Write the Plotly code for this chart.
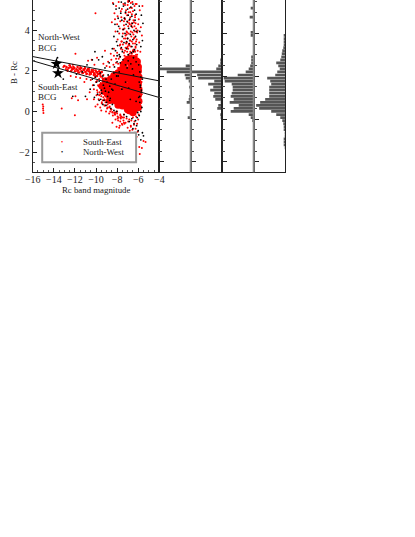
import plotly.graph_objects as go

# Scatter values (Rc magnitude, B-Rc colour)
se_core_mag = [-7.9,-7.5,-7.1,-6.8,-6.4,-6.1,-8.3,-8.0,-7.6,-7.3,-6.9,-6.5,-6.15,-8.7,-8.4,-7.9,-7.4,-7.0,-6.6,-6.2,
               -8.9,-8.5,-8.0,-7.5,-7.1,-6.7,-6.25,-9.0,-8.6,-8.2,-7.8,-7.3,-6.8,-6.3,-8.0,-7.6,-7.2,-6.75,-6.35,
               -7.3,-6.9,-6.45,-6.25,-7.0,-6.6,-6.35,-6.85,-6.4,-7.0,-6.5,-6.3,-6.7,
               -6.0,-5.95,-6.0,-5.95,-6.0,-5.95,-6.0,-8.7,-8.9,-9.2,-9.4,-9.1,-8.6,-8.3,-7.9,-7.6,-7.4,-7.1,-6.8,-6.4,-6.1,-6.0,
               -8.1,-7.7,-7.5,-7.2,-6.7,-8.4,-8.8]
se_core_col = [0.32,0.28,0.25,0.2,0.22,0.26,0.55,0.5,0.52,0.48,0.45,0.5,0.47,0.8,0.75,0.8,0.74,0.78,0.76,0.72,
               1.05,1.02,1.06,1.0,1.04,1.02,1.0,1.3,1.28,1.3,1.34,1.3,1.27,1.31,1.56,1.58,1.6,1.55,1.58,
               1.82,1.85,1.84,1.78,2.05,2.08,2.0,0.05,0.08,0.1,-0.05,2.3,2.35,
               0.2,0.5,0.8,1.1,1.4,1.7,2.0,0.55,0.85,1.0,1.25,1.5,1.6,1.75,1.9,2.05,2.3,2.5,2.6,2.6,2.45,2.2,
               1.72,1.82,1.68,1.9,1.7,1.5,1.15]

# Dense band running between the two lines, left of the main clump
se_band_mag = [-13.0,-12.8,-12.6,-12.4,-12.25,-12.05,-11.85,-11.7,-11.5,-11.35,-11.15,-11.0,-10.85,-10.65,-10.5,-10.3,-10.15,-9.95,-9.8,-9.6,
               -12.7,-12.35,-12.0,-11.6,-11.25,-10.9,-10.6,-10.2,-9.9,-9.55,-12.5,-12.15,-11.75,-11.4,-11.05,-10.75,-10.4,-10.05,-9.7,-9.45]
se_band_col = [2.25,2.2,2.15,2.18,2.1,2.14,2.08,2.02,2.1,1.98,2.05,1.95,2.02,1.98,1.92,1.96,1.88,1.92,1.85,1.88,
               2.05,2.0,1.98,1.92,1.9,1.85,1.82,1.8,1.75,1.72,2.28,2.2,2.2,2.15,2.12,2.1,2.05,2.02,1.98,1.95]

se_mag = [-15.05,-15.0,-15.02,-15.0,-14.98,-13.25,-12.0,-13.1,-12.85,-12.6,-12.3,-12.1,-11.8,-11.6,-11.4,-11.2,-11.0,-10.8,-10.6,-10.4,
          -10.2,-10.0,-9.8,-9.6,-13.0,-12.7,-12.45,-12.2,-11.95,-11.7,-11.5,-11.3,-11.05,-10.85,-10.65,-10.45,-10.25,-10.05,-9.85,-9.65,
          -12.4,-11.9,-11.5,-11.1,-10.9,-10.5,-10.1,-9.9,-9.5,-9.3,-9.7,-9.4,-10.3,-10.0,-9.8,-9.55,-9.3,-10.6,-10.2,-9.9,
          -9.6,-9.35,-9.95,-9.65,-9.45,-11.95,-12.3,-11.7,-10.85,-10.2,-9.75,-9.85,-9.45,-9.15,-10.05,-9.6,-9.2,-8.9,-9.5,-9.05,
          -10.75,-10.4,-10.15,-9.9,-9.3,-8.85,-8.7,-9.0,-8.55,-8.35,-8.1,-7.9,-9.15,-8.6,-8.3,-8.0,-7.75,-8.75,-8.4,-8.15,
          -7.85,-7.6,-8.45,-8.2,-7.95,-7.7,-7.4,-8.05,-7.8,-7.5,-7.3,-7.65,-7.45,-7.25,-7.05,-7.55,-7.35,-7.15,-6.85,-6.35,
          -7.2,-7.0,-6.75,-6.5,-6.25,-6.05,-7.1,-6.9,-6.65,-6.4,-6.2,-7.3,-6.95,-6.7,-6.45,-6.15,-7.0,-6.8,-6.55,-6.3,
          -7.25,-6.85,-6.6,-6.35,-6.1,-7.05,-6.75,-6.45,-6.25,-6.9,-6.6,-6.3,-7.15,-6.8,-6.5,-7.4,-7.0,-6.7,-6.35,-6.85,
          -7.6,-7.2,-6.95,-6.55,-6.25,-7.75,-7.35,-6.65,-6.2,-7.05,-6.4,-8.2,-7.45,-6.9,-6.3,-7.7,-7.1,-6.6,-6.1,-10.05,
          -7.85,-7.3,-6.75,-6.15,-7.5,-6.95,-6.45,-5.95,-8.1,-7.6,-7.15,-6.55,-6.0,-7.9,-7.25,-6.7,-6.25,-8.3,-7.4,-6.85,
          -6.35,-7.55,-6.6,-5.9,-8.45,-8.7,-8.85,-9.05,-8.55,-8.25,-8.0,-7.65,-7.35,-5.8,-5.75,-5.7,-5.85,-5.8,-5.72,-5.68,
          -5.78,-5.65,-5.82,-8.0,-7.7,-7.35,-7.1,-6.85,-6.5,-6.2,-5.95,-7.55,-7.2,-6.95,-6.65,-6.35,-6.0,-7.0,-6.7,-6.4,
          -6.1,-6.8,-6.55,-6.25,-6.55,-6.3,-6.05,-6.45,-6.15,-6.7,-6.95,-7.3,-6.35,-5.9,-5.3,-5.5,-6.2,-5.85,-5.65,
          -7.15,-6.9,-6.65,-6.4,-6.15,-7.35,-7.05,-6.8,-6.5,-6.2,-7.2,-6.95,-6.7,-6.45,-6.25,-7.1,-6.85,-6.6,-6.3,-7.0,
          -6.75,-6.5,-6.25,-6.9,-6.6,-6.35,-6.8,-6.55,-6.3,-7.4,-7.55,-7.25,-6.05,-6.0,-6.1,-5.95,
          # wider spread of the faint upper cloud and the left flank
          -8.4,-8.1,-7.85,-7.55,-7.25,-6.95,-6.6,-6.15,-5.85,-5.6,-8.25,-7.95,-7.65,-7.3,-6.75,-6.3,-5.95,-8.5,-8.0,-7.7,
          -7.35,-6.85,-6.4,-6.0,-5.75,-8.15,-7.8,-7.45,-7.1,-6.55,-6.05,-5.65,-7.95,-7.6,-7.2,-6.8,-6.35,-5.9,-8.3,-7.75,
          -7.5,-7.0,-6.5,-5.8,-9.75,-9.45,-9.2,-8.95,-9.6,-9.3,-9.05,-8.8,-9.85,-9.5,-9.2,-8.9,-9.7,-9.35,-9.1,-8.85,
          -9.45,-9.15,-8.9,-8.7,-8.95,-8.75,-8.55,-8.65,-8.45,-8.25,-8.45,-8.2,-7.95,-7.7,-7.45,-8.15,-7.9,-7.65,-7.35,-7.75]
se_col = [0.34,0.25,0.15,0.05,-0.08,0.15,-0.18,2.2,2.1,2.15,2.05,2.1,2.0,2.12,2.0,2.08,1.95,2.05,1.9,1.98,
          1.9,1.98,1.85,1.8,2.25,2.0,2.25,2.3,2.85,1.92,2.2,1.9,2.15,1.88,2.1,1.85,2.05,1.8,1.95,1.85,
          1.75,1.7,1.65,1.45,1.6,1.55,1.7,1.5,1.95,1.8,1.6,1.65,1.3,1.45,1.3,1.4,1.55,0.95,1.1,1.05,
          1.2,1.3,0.8,0.95,1.05,0.75,0.65,0.55,0.6,0.6,0.6,0.35,0.45,0.55,0.25,0.2,0.3,0.2,0.05,0.0,
          2.5,2.55,2.3,2.65,2.35,2.45,2.2,2.25,2.55,2.3,2.6,2.35,3.0,2.85,2.75,2.9,2.7,-0.1,-0.2,-0.05,
          -0.3,-0.25,-0.55,-0.15,-0.35,-0.5,-0.45,-0.75,-0.8,-0.65,-0.6,3.1,3.3,3.0,3.15,3.45,3.6,3.35,3.25,3.0,
          3.75,3.6,3.5,3.35,3.2,3.0,3.95,3.85,3.7,3.6,3.45,4.1,4.2,3.95,3.8,3.55,4.4,4.3,4.15,3.95,
          4.55,4.5,4.35,4.2,3.9,4.75,4.65,4.5,4.35,4.9,4.8,4.65,5.0,5.1,4.95,5.3,5.25,5.35,5.2,5.45,
          4.65,4.85,5.45,5.4,5.3,4.1,4.45,4.25,4.1,3.9,3.05,4.55,3.85,3.3,2.95,3.3,3.4,2.85,2.8,4.85,
          2.6,2.75,2.95,2.4,2.45,2.55,2.7,2.2,2.4,2.3,2.45,2.15,2.1,2.15,2.2,2.05,1.95,1.95,1.85,1.9,
          1.85,1.7,1.7,1.75,1.5,1.35,1.1,0.8,0.1,-0.05,0.0,-0.3,-0.15,1.6,1.3,1.0,0.7,0.4,0.2,1.45,
          1.15,0.85,0.55,-0.1,-0.15,-0.3,-0.35,-0.4,-0.3,-0.25,-0.15,-0.6,-0.55,-0.5,-0.45,-0.5,-0.4,-0.8,-0.7,-0.65,
          -0.6,-0.95,-0.9,-0.85,-1.1,-1.05,-1.0,-1.3,-1.25,-0.75,-1.4,-1.5,-1.6,-1.75,-1.5,-1.45,-1.9,-2.1,-1.8,
          2.7,2.65,2.75,2.6,2.7,2.9,2.95,2.85,2.95,2.8,3.15,3.1,3.2,3.05,3.15,3.4,3.3,3.45,3.35,2.5,
          2.55,2.6,2.5,2.4,2.45,2.5,2.2,2.25,2.15,2.05,1.85,1.8,2.3,2.6,2.0,1.9,
          5.35,5.2,5.4,5.05,5.25,5.4,5.1,5.3,5.0,5.2,4.85,4.7,4.95,4.6,4.9,4.75,4.55,4.4,4.3,4.45,
          4.25,4.35,4.4,4.3,4.15,3.95,3.85,4.05,3.8,3.9,4.0,3.75,3.55,3.45,3.6,3.5,3.65,3.4,3.1,3.25,
          3.05,3.2,3.0,2.95,1.25,1.05,0.9,1.35,0.85,0.7,1.15,1.45,0.95,0.75,0.6,1.2,0.8,0.55,0.45,0.9,
          0.4,0.3,0.35,0.25,0.15,0.2,0.1,0.0,-0.05,-0.1,-0.02,-0.15,-0.25,-0.2,-0.3,-0.4,-0.45,-0.35,-0.55,-0.7]

nw_mag = [-9.6,-9.35,-9.7,-10.05,-9.95,-10.2,-9.05,-9.3,-9.5,-8.95,-9.2,-9.45,-8.85,-9.1,-8.7,-8.9,-8.55,-8.3,-8.05,-7.8,
          -13.65,-13.35,-13.1,-11.85,-11.3,-10.85,-10.35,-10.1,-9.75,-9.4,-9.15,-8.75,-10.55,-10.15,-9.85,-9.55,-9.25,-9.0,-8.65,-8.45,
          -8.25,-8.0,-7.7,-7.45,-7.2,-6.95,-6.7,-6.45,-6.2,-8.15,-7.95,-7.6,-7.35,-7.1,-6.85,-6.6,-6.35,-7.5,-7.25,-7.0,
          -6.75,-6.5,-6.25,-7.4,-7.15,-6.9,-6.65,-6.4,-6.15,-7.55,-7.3,-7.05,-6.8,-6.55,-6.3,-7.65,-7.2,-6.95,-6.6,-6.2,
          -7.8,-7.4,-7.0,-6.7,-6.35,-7.6,-7.25,-6.85,-6.5,-7.85,-7.1,-6.65,-6.15,-8.0,-7.5,-6.95,-6.45,-7.7,-7.05,-6.55,
          -5.95,-5.85,-5.75,-5.9,-5.8,-5.7,-5.95,-5.85,-5.65,-5.75,-5.9,-5.6,-5.8,-5.7,-5.85,-6.1,-6.25,-6.4,-6.6,-6.85,
          -7.1,-7.35,-6.15,-6.0,-5.95,-5.6,-5.5,-5.75,-6.3,-6.5,-6.7,-7.0,-7.3,-6.05,-7.55,-8.2,-8.5,-8.8,-9.05,-8.6,
          -8.3,-8.05,-9.35,-9.7,-7.9,-6.9,-6.2,-6.45,-6.75,-7.2,-10.35,-11.0,-12.2,-8.4,-8.7,
          -8.35,-8.1,-7.9,-8.2,-7.95,-5.9,-5.7,-5.55,-8.3,-8.05,-5.85,-5.6,-8.45,-7.8,-5.75]
nw_col = [1.9,1.75,1.5,1.7,1.45,1.3,1.6,1.3,1.05,1.45,1.15,0.9,1.8,1.0,1.25,0.75,1.6,1.9,1.75,1.95,
          2.65,1.95,1.6,1.85,1.95,2.3,2.55,2.95,2.55,2.7,2.15,2.4,1.1,0.7,0.85,0.6,0.55,0.45,0.65,0.35,
          2.2,2.45,2.7,2.55,2.3,2.5,2.35,2.65,2.45,3.0,3.25,3.15,3.4,3.1,3.35,3.2,3.05,3.7,3.85,3.6,
          3.8,3.55,3.7,4.05,4.3,4.1,4.2,4.0,3.95,4.5,4.6,4.45,4.55,4.35,4.5,4.85,4.9,4.75,4.7,4.8,
          5.1,5.2,5.05,5.15,5.0,5.4,5.35,5.45,5.3,4.2,3.45,2.9,3.3,2.75,2.95,2.8,2.95,2.4,2.15,2.1,
          2.3,1.95,1.7,1.45,1.2,0.95,0.7,0.45,0.2,0.0,-0.2,1.6,1.3,1.05,0.75,-0.3,-0.45,-0.6,-0.35,-0.5,
          -0.25,-0.15,-0.7,-0.95,-1.15,-1.05,-1.2,-1.4,-1.05,-0.85,-1.3,-1.55,-1.85,-0.05,1.1,1.35,1.1,0.95,0.3,0.15,
          0.05,0.0,0.35,0.55,1.75,1.15,0.5,1.8,0.6,1.45,1.6,0.75,0.75,1.05,0.55,
          5.3,5.05,4.6,4.3,3.95,5.2,4.75,4.35,3.7,3.45,3.95,3.5,3.1,2.8,3.2]

# Two BCG locations and the two colour-magnitude lines
bcg_mag = [-13.75, -13.6]
bcg_col = [2.35, 1.89]
line_mag = [-16, -4]
nw_line_col = [2.71, 1.51]
se_line_col = [2.5, 0.69]

# Histogram bins, shared by the four panels, counts read per panel
hist_col = [5.1,4.95,4.8,4.65,4.5,4.35,4.2,4.05,3.9,3.75,3.6,3.45,3.3,3.15,3.0,2.85,2.7,2.55,2.4,2.25,2.1,1.95,1.8,1.65,1.5,1.35,1.2,1.05,0.9,0.75,0.6,0.45,0.3,0.15,0,-0.15,-0.3,-0.45,-0.6,-0.75,-0.9,-1.05,-1.2,-1.35,-1.5,-1.65,-1.8]
hist_1 = [0,0,0,0,0,0,0,0,0,0,0,0,0,0,0,0,0,0,0,5,31,24,6,5,2,0,1.5,0,0,1,2,4,0,0,0,0,3,0,0,0,0,0,0,0,0,0,0]
hist_2 = [0,0,0,0,0,0,0,0,0,0,0,0,0,0,0,0,0,2,2,4,6,32,25,24,8,14,9,12,8,9,7,1,4,5,0,2,1,0,0,0,0,0,0,0,0,0,0]
hist_3 = [3,0,0,4,0,0,0,0,3,3,0,0,0,0,0,0,2.5,2.5,2.5,3.5,5,8,16,30,29,22,21,21,22,23,20,24,15,20,23,5,3,1.5,0,0,0,0,0,0,0,0,0]
hist_4 = [0,0,0,0,0,0,0,0,0,1,1,1,1,2,3,3.5,4,5,9,7,5.5,8,10,18,15,14,16,16,16,16,20,25,29,26,14,9,5,3,2,1.5,1,0.5,0.5,1,1,0.8,0.3]

W, H = 415, 537
font = "Liberation Serif"
ink = "#222222"
bottom = 1 - 172.3 / H
fig = go.Figure()

fig.add_trace(go.Scatter(x=se_core_mag, y=se_core_col, mode="markers", showlegend=False, hoverinfo="skip",
                         marker=dict(color="#ff0000", size=7.5)))
fig.add_trace(go.Scatter(x=se_band_mag, y=se_band_col, mode="markers", showlegend=False, hoverinfo="skip",
                         marker=dict(color="#ff0000", size=2.5)))
fig.add_trace(go.Scatter(x=se_mag, y=se_col, mode="markers", name="South-East",
                         marker=dict(color="#ff0000", size=2)))
fig.add_trace(go.Scatter(x=nw_mag, y=nw_col, mode="markers", name="North-West",
                         marker=dict(color="#000000", size=1.8)))
for c in (nw_line_col, se_line_col):
    fig.add_trace(go.Scatter(x=line_mag, y=c, mode="lines", showlegend=False, line=dict(color="#111111", width=1)))
fig.add_trace(go.Scatter(x=bcg_mag, y=bcg_col, mode="markers", showlegend=False,
                         marker=dict(color="#000000", size=9, symbol="star")))

# Panels next to the scatter
for i, h in enumerate([hist_1, hist_2, hist_3, hist_4]):
    fig.add_trace(go.Bar(x=h, y=hist_col, orientation="h", showlegend=False, width=0.135,
                         marker=dict(color="#555555", line=dict(width=0)),
                         xaxis=f"x{i+2}", yaxis=f"y{i+2}"))

axis_common = dict(showgrid=False, zeroline=False, showline=True, linecolor=ink, linewidth=1, automargin=False)
fig.update_layout(
    width=W, height=H, autosize=False,
    margin=dict(l=0, r=0, t=0, b=0),
    paper_bgcolor="white", plot_bgcolor="rgba(0,0,0,0)",
    font=dict(family=font, size=10, color=ink),
    showlegend=False,
    xaxis=dict(domain=[32.7 / W, 159.3 / W], range=[-16, -4], dtick=2, ticks="inside", ticklen=4, ticklabelstandoff=-2,
               mirror=True, tickcolor=ink, minor=dict(dtick=0.5, ticks="inside", ticklen=2, tickcolor="#555555"),
               **axis_common),
    yaxis=dict(domain=[bottom, 1], range=[-3, 5.5], dtick=2, ticks="inside", ticklen=4,
               mirror=True, tickcolor=ink, minor=dict(dtick=0.5, ticks="inside", ticklen=2, tickcolor="#555555"),
               **axis_common),
)

edges = [159.3, 190.7, 222.3, 253.7, 285.3]
for i in range(4):
    fig.update_layout({
        f"xaxis{i+2}": dict(domain=[edges[i] / W, edges[i+1] / W], range=[31.4, 0], anchor=f"y{i+2}",
                            showticklabels=False, ticks="", **axis_common),
        f"yaxis{i+2}": dict(domain=[bottom, 1], range=[-3, 5.5], anchor=f"x{i+2}", showticklabels=False,
                            tick0=-2.48, dtick=2.108, ticks="inside", ticklen=5, mirror=True, tickcolor=ink,
                            minor=dict(dtick=0.527, tick0=-2.48, ticks="inside", ticklen=3, tickcolor="#444444"),
                            **axis_common),
    })

# The first and third panels' right edges print as wider grey rules
for name in ("x2", "x4"):
    fig.add_shape(type="line", xref=f"{name} domain", yref="y2 domain", x0=1, x1=1, y0=0, y1=1,
                  line=dict(color="#888888", width=2))

# Axis titles placed by hand, the built-in standoff cannot get this close to the ticks
fig.add_annotation(xref="paper", yref="paper", x=96 / W, y=1 - 190 / H, text="Rc band magnitude", showarrow=False,
                   xanchor="center", yanchor="middle", font=dict(size=8.8, family=font, color=ink))
fig.add_annotation(xref="paper", yref="paper", x=14 / W, y=1 - 73 / H, text="B - Rc", showarrow=False, textangle=-90,
                   xanchor="center", yanchor="middle", font=dict(size=8.8, family=font, color=ink))

# Legend box: plotly's own legend has a minimum row height too tall for this box
fig.add_shape(type="rect", xref="x", yref="y", x0=-15.1, x1=-6.2, y0=-2.5, y1=-1.05,
              fillcolor="white", line=dict(color="#999999", width=2))
key_rows = [(-1.5, "South-East", "#ff0000"), (-2.0, "North-West", "#000000")]
for ky, txt, col in key_rows:
    fig.add_annotation(x=-13.2, y=ky, text="•", showarrow=False, font=dict(size=6, color=col, family=font))
    fig.add_annotation(x=-11.4, y=ky, text=txt, showarrow=False, xanchor="left", yanchor="middle",
                       font=dict(size=8.8, family=font, color=ink))

labels = [(-15.7, 3.66, "North-West"), (-15.7, 3.14, "BCG"), (-15.7, 1.19, "South-East"), (-15.7, 0.7, "BCG")]
for lx, ly, txt in labels:
    fig.add_annotation(x=lx, y=ly, text=txt, showarrow=False, xanchor="left", yanchor="middle",
                       font=dict(size=9, family=font, color=ink))

# Page margin would push the fixed-size figure away from the window corner
fig.write_html("out.html", config=dict(displayModeBar=False), post_script="document.body.style.margin='0';")
